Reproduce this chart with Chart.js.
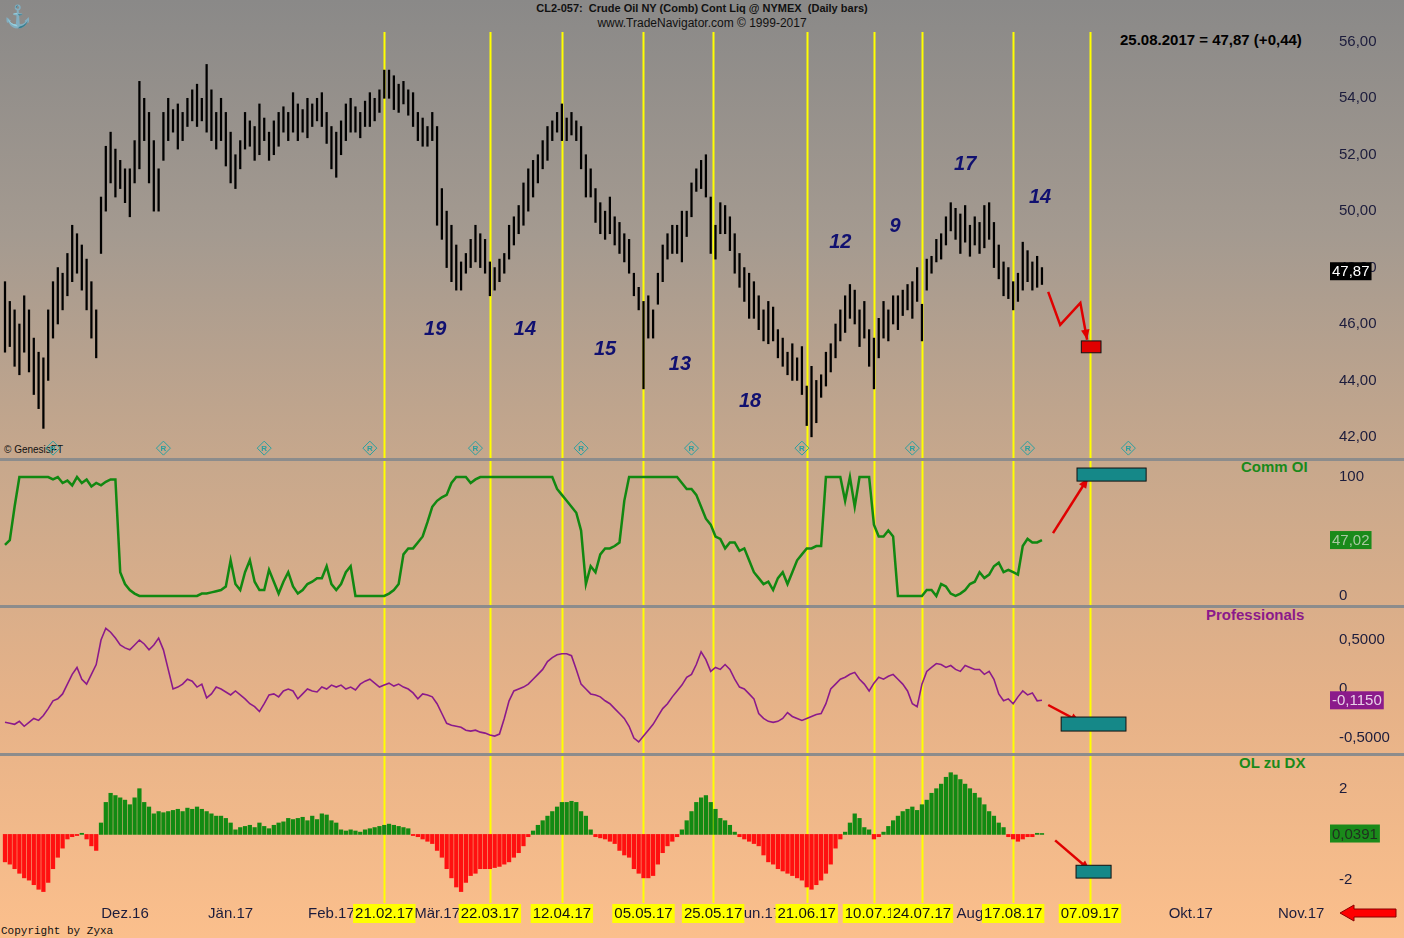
<!DOCTYPE html>
<html><head><meta charset="utf-8">
<script src="https://cdn.jsdelivr.net/npm/chart.js@4.4.1/dist/chart.umd.min.js"></script>
<style>
html,body{margin:0;padding:0;}
body{width:1404px;height:938px;position:relative;overflow:hidden;font-family:"Liberation Sans",Arial,sans-serif;
background:linear-gradient(to bottom,#8a8988 0%,#a49a90 25%,#c8a88c 50%,#e6b288 75%,#fbbf8c 100%);}
.cv{position:absolute;left:0;width:1404px;}
.sep{position:absolute;left:0;width:1404px;height:3px;background:#8c8c8c;}
.t{position:absolute;white-space:nowrap;}
</style></head><body>
<div class="t" style="left:0;width:1404px;top:2px;text-align:center;font-size:11px;font-weight:bold;color:#111">CL2-057:&nbsp; Crude Oil NY (Comb) Cont Liq @ NYMEX&nbsp; (Daily bars)</div>
<div class="t" style="left:0;width:1404px;top:16px;text-align:center;font-size:12px;color:#111">www.TradeNavigator.com © 1999-2017</div>
<div class="t" style="left:1120px;top:31px;font-size:15px;font-weight:bold;color:#000">25.08.2017 = 47,87 (+0,44)</div>
<div class="t" style="left:4px;top:444px;font-size:10px;color:#111">© GenesisFT</div>
<div class="t" style="left:1241px;top:458px;font-size:15px;font-weight:bold;color:#1a8a1a">Comm OI</div>
<div class="t" style="left:1206px;top:606px;font-size:15px;font-weight:bold;color:#8b1a8b">Professionals</div>
<div class="t" style="left:1239px;top:754px;font-size:15px;font-weight:bold;color:#1a8a1a">OL zu DX</div>
<div class="t" style="left:1px;top:925px;font-size:11px;font-family:'Liberation Mono',monospace;color:#111">Copyright by Zyxa</div>
<div class="t" style="left:4px;top:4px;font-size:22px;color:#c8a020">⚓</div>
<canvas id="c1" class="cv" style="top:32px;height:426px"></canvas>
<div class="sep" style="top:458px"></div>
<canvas id="c2" class="cv" style="top:461px;height:144px"></canvas>
<div class="sep" style="top:605px"></div>
<canvas id="c3" class="cv" style="top:608px;height:145px"></canvas>
<div class="sep" style="top:753px"></div>
<canvas id="c4" class="cv" style="top:756px;height:169px"></canvas>
<svg style="position:absolute;left:1340px;top:904px" width="58" height="18"><polygon points="0,9 14,1 14,5 56,5 56,13 14,13 14,17" fill="#ff0000" stroke="#800" stroke-width="1"/></svg>
<script>
const highs=[47.5,46.8,46.5,46,47,46.5,45.5,45,44.8,46.5,
47.5,48,47.8,48.5,49.5,49.2,48.8,48.3,47.5,46.5,
50.5,52.3,52.8,52.2,51.8,51.5,51.5,52.5,54.6,54,
53.5,52.5,51.5,53.5,54,53.6,53.8,53.5,54,54.3,
54.5,54,55.2,54.3,53.5,54,53.5,52.8,52,52.5,
53.5,53.2,53,53.8,53.3,52.8,53.2,53.5,53.7,53.5,
54.2,53.8,53.6,54,53.8,54,54.2,53.5,53,52.8,
53.2,53.8,54,53.7,53.5,53.9,54.2,54,54.3,55,
55,54.8,54.5,54.6,54.3,54.2,53.5,53.3,53,53.5,
53,50.8,50,49.5,48.8,48.2,48.5,49,49.5,49.2,
49,48.2,48,48.3,48.5,49.5,49.8,50.2,51,51.5,
51.8,52,52.5,53,53.2,53.5,53.8,53.3,53.5,53.2,
53,52,51.5,50.8,50.3,50,50.5,49.8,49.6,49.2,
49,47.8,47.3,46.8,47,46.5,47.8,48.8,49.2,49.5,
49.5,50,50,51,51.5,51.8,52,50.5,49.5,50.3,
50.2,49.8,49.2,48.5,48,47.8,47.5,47,46.5,46.8,
46.6,45.8,45.5,45,45.3,44.8,45.2,43.8,44.5,44,
44.2,45,45.3,46,46.5,47,47.4,47.2,46.5,46.8,
45.8,45.5,46.2,46.8,46.5,47,47,47.2,47.4,47.5,
48,46.7,48.3,48.4,49,49.2,49.8,50.3,50.1,49.9,
50.2,49.5,49.8,49.6,50.2,50.3,49.6,48.8,48.2,48,
47.5,47.8,48.9,48.6,48.2,48.4,48];
const lows=[45,45.2,44.5,44.2,45,44.3,43.5,43,42.3,44,
45.5,46,46.5,47,47.5,47.8,47.2,46.5,45.5,44.8,
48.5,50,51,50.5,50.8,50.3,49.8,51,51.5,52.5,
51,50,50,51.8,52.5,52.8,52.2,52.5,53,53.2,
53,53.2,52.8,52.5,52.2,52.5,51.6,51,50.8,51.5,
52.2,52.3,51.8,52,52.5,51.8,52,52.3,52.8,52.5,
52.8,52.5,52.8,52.6,53,53.2,53,52.4,51.5,51.2,
52,52.5,52.8,52.8,52.6,53,53,53.2,53.5,54,
54,53.6,53.5,53.8,53.4,53,52.5,52.3,52.3,52.5,
49.5,49,48,47.5,47.2,47.2,47.8,48,48.2,48,
47.8,47,47.2,47.5,47.8,48.3,48.8,49.2,49.5,50,
50.5,51,51.5,51.8,52.5,52.8,52.5,52.5,52.7,52.5,
51.5,50.5,50.5,49.6,49.2,49,49.2,48.8,48.5,48.2,
47.8,47,46.5,43.7,45.5,45.5,46.7,47.5,48.3,48.5,
48.5,48.2,49.1,49.8,50.7,50.8,50.5,48.5,48.3,49.2,
49.2,48.6,47.8,47.3,46.8,46.2,46.2,45.8,45.4,45.3,
45.4,44.8,44.5,44.2,44,44,43.5,42.4,42,42.5,
43.4,43.8,44.3,44.8,45.4,45.7,46.2,46,45.2,45.5,
44.5,43.7,44.8,45.5,45.4,46,45.8,46.3,46.5,46.2,
46.8,45.4,47.2,47.8,48.2,48.3,48.8,49.3,49,48.5,
48.9,48.4,48.8,48.5,48.7,49,48,47.6,47,46.9,
46.5,46.8,47.2,47.5,47.2,47.3,47.4];
const commOI=[43,47,75,100,100,100,100,100,100,100,
98,100,95,97,93,100,95,98,92,95,
93,96,98,98,20,10,5,2,0,0,
0,0,0,0,0,0,0,0,0,0,
0,2,2,3,4,5,8,30,10,5,
20,30,12,5,5,22,12,2,12,20,
8,2,5,10,12,15,15,25,10,5,
10,20,25,0,0,0,0,0,0,0,
2,5,10,35,40,40,45,50,62,75,
80,83,85,95,100,100,100,95,98,100,
100,100,100,100,100,100,100,100,100,100,
100,100,100,100,100,90,85,80,75,70,
55,10,25,20,35,40,40,42,45,80,
100,100,100,100,100,100,100,100,100,100,
100,95,90,90,85,75,65,60,50,48,
40,45,45,38,40,30,20,15,10,12,
5,15,20,10,20,30,35,40,40,42,
42,100,100,100,100,80,100,75,100,100,
100,60,50,50,55,50,0,0,0,0,
0,0,5,5,0,10,8,2,0,2,
5,10,12,20,15,18,25,28,20,22,
20,18,42,48,45,45,47];
const professionals=[-0.34,-0.35,-0.36,-0.33,-0.38,-0.34,-0.3,-0.32,-0.27,-0.2,
-0.12,-0.1,-0.05,0.05,0.15,0.22,0.1,0.05,0.15,0.25,
0.5,0.62,0.58,0.52,0.45,0.42,0.4,0.45,0.5,0.46,
0.4,0.45,0.52,0.4,0.2,0,0.02,0.05,0.1,0.08,
0.02,0.05,-0.09,-0.05,0.02,0.0,-0.03,-0.06,-0.02,-0.06,
-0.1,-0.15,-0.18,-0.23,-0.15,-0.06,-0.05,-0.08,-0.02,0.0,
-0.02,-0.1,-0.05,0.0,-0.02,-0.03,0.02,0.0,0.04,0.02,
0.04,0.0,0.02,-0.01,0.05,0.08,0.1,0.06,0.02,0.04,
0.06,0.03,0.05,0.02,0.0,-0.04,-0.1,-0.05,-0.06,-0.08,
-0.15,-0.25,-0.35,-0.37,-0.38,-0.39,-0.42,-0.43,-0.42,-0.44,
-0.45,-0.47,-0.48,-0.46,-0.3,-0.12,-0.02,0.0,0.02,0.05,
0.1,0.15,0.2,0.28,0.32,0.35,0.36,0.36,0.34,0.2,
0.05,0.0,-0.05,-0.06,-0.08,-0.12,-0.15,-0.2,-0.25,-0.3,
-0.38,-0.5,-0.54,-0.48,-0.42,-0.36,-0.28,-0.2,-0.15,-0.08,
-0.02,0.04,0.12,0.15,0.25,0.38,0.3,0.18,0.22,0.2,
0.25,0.2,0.1,0.02,0.0,-0.05,-0.1,-0.25,-0.3,-0.33,
-0.34,-0.33,-0.3,-0.24,-0.28,-0.3,-0.32,-0.3,-0.28,-0.26,
-0.25,-0.15,0.0,0.05,0.1,0.12,0.15,0.17,0.1,0.05,
-0.02,0.06,0.12,0.1,0.13,0.15,0.1,0.05,-0.02,-0.15,
-0.18,0.05,0.18,0.22,0.26,0.25,0.22,0.24,0.2,0.18,
0.24,0.22,0.2,0.2,0.15,0.18,0.1,-0.05,-0.12,-0.1,
-0.15,-0.08,-0.02,-0.06,-0.04,-0.12,-0.115];
const olZuDx=[-1.2,-1.3,-1.5,-1.7,-1.9,-2.0,-2.2,-2.4,-2.5,-2.1,
-1.5,-1.0,-0.6,-0.2,-0.1,-0.05,0.05,-0.2,-0.5,-0.7,
0.5,1.4,1.8,1.7,1.6,1.5,1.3,1.6,2.0,1.4,
1.2,0.9,1.0,0.95,1.0,1.05,1.1,1.0,1.15,1.1,
1.2,1.1,1.0,0.9,0.8,0.8,0.7,0.5,0.2,0.3,
0.35,0.4,0.3,0.5,0.35,0.25,0.4,0.5,0.55,0.7,
0.65,0.7,0.75,0.6,0.8,0.65,0.9,0.85,0.6,0.5,
0.2,0.15,0.2,0.15,0.1,0.2,0.25,0.3,0.35,0.4,
0.45,0.4,0.35,0.3,0.25,-0.05,-0.1,-0.2,-0.3,-0.4,
-0.7,-1.0,-1.5,-1.9,-2.3,-2.5,-2.1,-1.8,-1.7,-1.5,
-1.5,-1.5,-1.45,-1.4,-1.3,-1.2,-1.0,-0.8,-0.5,-0.1,
0.15,0.4,0.6,0.8,1.0,1.2,1.4,1.4,1.45,1.4,
1.0,0.8,0.2,-0.1,-0.15,-0.2,-0.3,-0.4,-0.7,-0.9,
-1.0,-1.5,-1.7,-1.9,-1.9,-1.8,-1.3,-0.8,-0.5,-0.3,
-0.1,0.2,0.6,1.0,1.4,1.6,1.7,1.4,1.1,0.7,
0.6,0.4,0.1,-0.1,-0.2,-0.3,-0.4,-0.5,-0.9,-1.2,
-1.3,-1.5,-1.6,-1.7,-1.8,-1.9,-2.0,-2.3,-2.4,-2.2,
-2.0,-1.7,-1.3,-0.6,-0.2,0.1,0.5,0.9,0.7,0.3,
0.2,-0.2,-0.1,0.1,0.35,0.6,0.8,1.0,1.1,1.2,
1.05,1.3,1.5,1.8,2.0,2.2,2.5,2.7,2.6,2.4,
2.2,2.0,1.8,1.6,1.3,1.0,0.8,0.5,0.3,-0.1,
-0.2,-0.3,-0.2,-0.1,-0.1,0.05,0.04];
const cycleLines=[79,101,116,133,147.5,167,181,191,210,226];
const cycleDates=["21.02.17","22.03.17","12.04.17","05.05.17","25.05.17","21.06.17","10.07.17","24.07.17","17.08.17","07.09.17"];
const monthIdx=[25,47,68,90,157,201,247,270];
const monthLabels=["Dez.16","Jän.17","Feb.17","Mär.17","Jun.17","Aug","Okt.17","Nov.17"];
const cycleLen=["19","14","15","13","18","12","9","17","14"];
const cycleLenX=[89.6,108.3,125,140.6,155.2,174,185.4,200,215.6];
const cycleLenY=[45.8,45.8,45.1,44.55,43.24,48.9,49.45,51.65,50.5];
const priceTicks=[42,44,46,48,50,52,54,56];
const commTicks=[0,100];
const proTicks=[-0.5,0,0.5];
const olTicks=[-2,0,2];

const XMIN=-1.04,XMAX=276;
const fmt2=v=>v.toFixed(2).replace('.',',');
function arrow(ctx,pts){
  ctx.save();ctx.strokeStyle='#e00000';ctx.fillStyle='#e00000';ctx.lineWidth=2.5;
  ctx.beginPath();ctx.moveTo(pts[0][0],pts[0][1]);for(const p of pts.slice(1))ctx.lineTo(p[0],p[1]);ctx.stroke();
  const a=pts[pts.length-2],b=pts[pts.length-1];const ang=Math.atan2(b[1]-a[1],b[0]-a[0]);
  ctx.beginPath();ctx.moveTo(b[0],b[1]);ctx.lineTo(b[0]-11*Math.cos(ang-0.4),b[1]-11*Math.sin(ang-0.4));
  ctx.lineTo(b[0]-11*Math.cos(ang+0.4),b[1]-11*Math.sin(ang+0.4));ctx.closePath();ctx.fill();ctx.restore();
}
function box(ctx,x1,y1,x2,y2,fill){ctx.save();ctx.fillStyle=fill;ctx.strokeStyle='#111';ctx.lineWidth=1;ctx.fillRect(x1,y1,x2-x1,y2-y1);ctx.strokeRect(x1,y1,x2-x1,y2-y1);ctx.restore();}
function valueBox(chart,v,txt,fill,tc){
  const ctx=chart.ctx,y=chart.scales.y.getPixelForValue(v);ctx.save();
  ctx.font='15px "Liberation Sans",Arial';const w=ctx.measureText(txt).width+4;
  ctx.fillStyle=fill;ctx.fillRect(1330,y-9,w,18);ctx.fillStyle=tc;ctx.textBaseline='middle';ctx.fillText(txt,1332,y+1);ctx.restore();
}
const DRAW={};
const overlay={id:'overlay',
 beforeDatasetsDraw(chart){
  const ctx=chart.ctx,xs=chart.scales.x,a=chart.chartArea;ctx.save();ctx.strokeStyle='#ffff00';ctx.lineWidth=2;
  for(const c of cycleLines){const x=Math.round(xs.getPixelForValue(c))+0.5;ctx.beginPath();ctx.moveTo(x,a.top);ctx.lineTo(x,a.bottom);ctx.stroke();}
  ctx.restore();
 },
 afterDraw(chart){const f=DRAW[chart.canvas.id];if(f)f(chart);}
};
Chart.register(overlay);
function yAxis(min,max,ticks,fmt){return{position:'right',min,max,grid:{display:false},border:{display:false},
 afterBuildTicks:s=>{s.ticks=ticks.map(v=>({value:v}));},afterFit:s=>{s.width=74;s.paddingTop=0;s.paddingBottom=0;},
 ticks:{padding:1,color:'#1c1c3c',font:{size:15,family:'"Liberation Sans",Arial'},callback:fmt}};}
function xAxis(show){return{type:'linear',offset:false,min:XMIN,max:XMAX,display:show,grid:{display:false},border:{display:false},
 afterBuildTicks:s=>{s.ticks=monthIdx.map(v=>({value:v}));},afterFit:s=>{if(show)s.height=22;s.paddingLeft=0;s.paddingRight=0;},
 ticks:{autoSkip:false,maxRotation:0,padding:-6,color:'#1c1c3c',font:{size:15,family:'"Liberation Sans",Arial'},callback:v=>monthLabels[monthIdx.indexOf(v)]||''}};}
const base={responsive:false,animation:false,maintainAspectRatio:false,devicePixelRatio:1,layout:{padding:0},events:[]};
function mk(id,h,cfg){const c=document.getElementById(id);c.width=1404;c.height=h;return new Chart(c,cfg);}
const idx=highs.map((_,i)=>i);
const noPl={legend:{display:false},tooltip:{enabled:false}};

DRAW.c1=ch=>{
  const ctx=ch.ctx,xs=ch.scales.x,ys=ch.scales.y;
  ctx.save();ctx.fillStyle='#101070';ctx.font='italic bold 20px "Liberation Sans",Arial';ctx.textAlign='center';ctx.textBaseline='middle';
  cycleLen.forEach((t,i)=>ctx.fillText(t,xs.getPixelForValue(cycleLenX[i]),ys.getPixelForValue(cycleLenY[i])));
  ctx.strokeStyle='#2aa0a0';ctx.fillStyle='#2aa0a0';ctx.lineWidth=1;ctx.font='bold 8px Arial';
  const ry=ys.getPixelForValue(41.6);
  [10,33,54,76,98,120,143,166,189,213,234].forEach(d=>{const x=xs.getPixelForValue(d);ctx.beginPath();ctx.moveTo(x,ry-7);ctx.lineTo(x+7,ry);ctx.lineTo(x,ry+7);ctx.lineTo(x-7,ry);ctx.closePath();ctx.stroke();ctx.fillText('R',x,ry+1);});
  ctx.restore();
  const P=(i,v)=>[xs.getPixelForValue(i),ys.getPixelForValue(v)];
  arrow(ctx,[P(217.3,47.14),P(219.8,45.97),P(224,46.75),P(225.4,45.44)]);
  box(ctx,...P(224.2,45.4),...P(228.3,44.98),'#e00000');
  valueBox(ch,47.87,'47,87','#000','#fff');
};
mk('c1',426,{type:'bar',data:{datasets:[{data:idx.map(i=>({x:i,y:[lows[i],highs[i]]})),backgroundColor:'#000',barThickness:1.6,borderSkipped:false}]},
 options:{...base,plugins:noPl,scales:{x:xAxis(false),y:yAxis(41.25,56.35,priceTicks,v=>fmt2(v))}}});

DRAW.c2=ch=>{
  const xs=ch.scales.x,ys=ch.scales.y,P=(i,v)=>[xs.getPixelForValue(i),ys.getPixelForValue(v)];
  arrow(ch.ctx,[P(218.3,52.9),P(225.6,99.2)]);box(ch.ctx,...P(223.3,107.6),...P(237.7,96.6),'#158888');
  valueBox(ch,47.02,'47,02','#1a8a1a','#a8c8a0');
};
mk('c2',144,{type:'line',data:{datasets:[{data:idx.map(i=>({x:i,y:commOI[i]})),borderColor:'#118811',borderWidth:2.5,pointRadius:0,tension:0}]},
 options:{...base,plugins:noPl,scales:{x:xAxis(false),y:yAxis(-7.6,113.5,commTicks,v=>String(v))}}});

DRAW.c3=ch=>{
  const xs=ch.scales.x,ys=ch.scales.y,P=(i,v)=>[xs.getPixelForValue(i),ys.getPixelForValue(v)];
  arrow(ch.ctx,[P(217.3,-0.163),P(224,-0.337)]);box(ch.ctx,...P(220,-0.286),...P(233.5,-0.429),'#158888');
  valueBox(ch,-0.115,'-0,1150','#8b1a8b','#e8d0e8');
};
mk('c3',145,{type:'line',data:{datasets:[{data:idx.map(i=>({x:i,y:professionals[i]})),borderColor:'#8b1a8b',borderWidth:1.6,pointRadius:0,tension:0}]},
 options:{...base,plugins:noPl,scales:{x:xAxis(false),y:yAxis(-0.653,0.827,proTicks,v=>v===0?'0':v.toFixed(4).replace('.',','))}}});

DRAW.c4=ch=>{
  const ctx=ch.ctx,xs=ch.scales.x,ys=ch.scales.y,P=(i,v)=>[xs.getPixelForValue(i),ys.getPixelForValue(v)];
  arrow(ctx,[P(218.75,-0.26),P(226,-1.57)]);box(ctx,...P(223.1,-1.35),...P(230.4,-1.91),'#158888');
  valueBox(ch,0.0391,'0,0391','#1a8a1a','#203020');
  const yb=ch.chartArea.bottom;ctx.save();ctx.font='15px "Liberation Sans",Arial';ctx.textAlign='center';ctx.textBaseline='middle';
  cycleLines.forEach((c,i)=>{const x=xs.getPixelForValue(c);const w=ctx.measureText(cycleDates[i]).width+4;
   ctx.fillStyle='#ffff00';ctx.fillRect(x-w/2,yb+1,w,19);ctx.fillStyle='#111';ctx.fillText(cycleDates[i],x,yb+11);});
  ctx.restore();
};
mk('c4',169,{type:'bar',data:{datasets:[{data:idx.map(i=>({x:i,y:olZuDx[i]})),backgroundColor:olZuDx.map(v=>v>=0?'#128a12':'#ff1010'),barThickness:3.6}]},
 options:{...base,plugins:noPl,scales:{x:xAxis(true),y:yAxis(-3.0,3.43,olTicks,v=>v===0?'':String(v))}}});
</script></body></html>
